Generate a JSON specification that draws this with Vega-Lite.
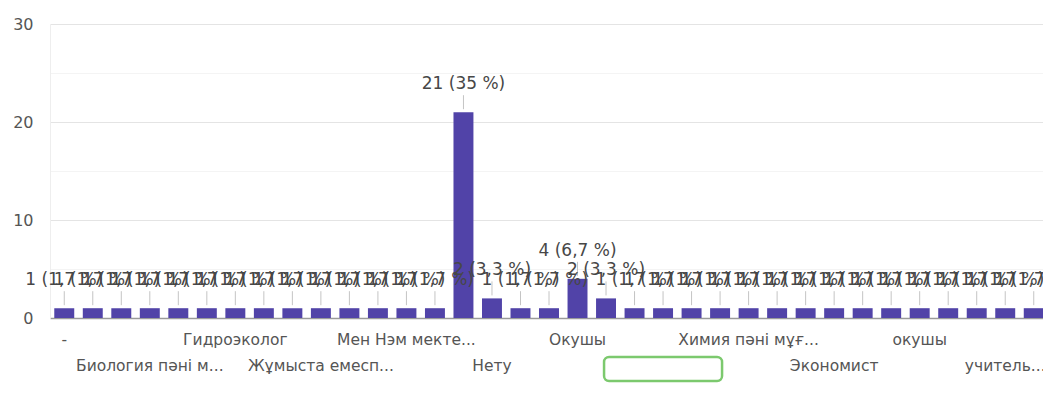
{
  "$schema": "https://vega.github.io/schema/vega-lite/v6.json",
  "width": 998,
  "height": 294,
  "autosize": "none",
  "padding": {"left": 50, "top": 24, "right": 0, "bottom": 76},
  "background": "white",
  "config": {"view": {"stroke": null}, "font": "DejaVu Sans"},
  "data": {"values": [
    {"i": 0, "name": "-", "count": 1, "label": "1 (1,7 %)"},
    {"i": 1, "name": "", "count": 1, "label": "1 (1,7 %)"},
    {"i": 2, "name": "", "count": 1, "label": "1 (1,7 %)"},
    {"i": 3, "name": "Биология пәні м...", "count": 1, "label": "1 (1,7 %)"},
    {"i": 4, "name": "", "count": 1, "label": "1 (1,7 %)"},
    {"i": 5, "name": "", "count": 1, "label": "1 (1,7 %)"},
    {"i": 6, "name": "Гидроэколог", "count": 1, "label": "1 (1,7 %)"},
    {"i": 7, "name": "", "count": 1, "label": "1 (1,7 %)"},
    {"i": 8, "name": "", "count": 1, "label": "1 (1,7 %)"},
    {"i": 9, "name": "Жұмыста емесп...", "count": 1, "label": "1 (1,7 %)"},
    {"i": 10, "name": "", "count": 1, "label": "1 (1,7 %)"},
    {"i": 11, "name": "", "count": 1, "label": "1 (1,7 %)"},
    {"i": 12, "name": "Мен Нэм мекте...", "count": 1, "label": "1 (1,7 %)"},
    {"i": 13, "name": "", "count": 1, "label": "1 (1,7 %)"},
    {"i": 14, "name": "", "count": 21, "label": "21 (35 %)"},
    {"i": 15, "name": "Нету", "count": 2, "label": "2 (3,3 %)"},
    {"i": 16, "name": "", "count": 1, "label": "1 (1,7 %)"},
    {"i": 17, "name": "", "count": 1, "label": "1 (1,7 %)"},
    {"i": 18, "name": "Окушы", "count": 4, "label": "4 (6,7 %)"},
    {"i": 19, "name": "", "count": 2, "label": "2 (3,3 %)"},
    {"i": 20, "name": "", "count": 1, "label": "1 (1,7 %)"},
    {"i": 21, "name": "", "count": 1, "label": "1 (1,7 %)"},
    {"i": 22, "name": "", "count": 1, "label": "1 (1,7 %)"},
    {"i": 23, "name": "", "count": 1, "label": "1 (1,7 %)"},
    {"i": 24, "name": "Химия пәні мұғ...", "count": 1, "label": "1 (1,7 %)"},
    {"i": 25, "name": "", "count": 1, "label": "1 (1,7 %)"},
    {"i": 26, "name": "", "count": 1, "label": "1 (1,7 %)"},
    {"i": 27, "name": "Экономист", "count": 1, "label": "1 (1,7 %)"},
    {"i": 28, "name": "", "count": 1, "label": "1 (1,7 %)"},
    {"i": 29, "name": "", "count": 1, "label": "1 (1,7 %)"},
    {"i": 30, "name": "окушы", "count": 1, "label": "1 (1,7 %)"},
    {"i": 31, "name": "", "count": 1, "label": "1 (1,7 %)"},
    {"i": 32, "name": "", "count": 1, "label": "1 (1,7 %)"},
    {"i": 33, "name": "учитель...", "count": 1, "label": "1 (1,7 %)"},
    {"i": 34, "name": "", "count": 1, "label": "1 (1,7 %)"}
  ]},
  "encoding": {
    "x": {"field": "i", "type": "ordinal",
      "scale": {"paddingInner": 0.3, "paddingOuter": 0.15},
      "axis": {"labels": false, "ticks": false, "title": null, "domainColor": "#9a9a9a", "domainWidth": 1.5}}
  },
  "layer": [
    {
      "mark": {"type": "bar", "color": "#5143a8"},
      "encoding": {
        "y": {"field": "count", "type": "quantitative",
          "scale": {"domain": [0, 30], "nice": false},
          "axis": {"values": [0, 5, 10, 15, 20, 25, 30],
            "labelExpr": "datum.value % 10 === 0 ? datum.label : ''",
            "title": null, "ticks": false, "labelPadding": 17, "labelFontSize": 16,
            "labelColor": "#555555", "domainColor": "#eeeeee",
            "gridColor": {"condition": {"test": "datum.value % 10 === 0", "value": "#e4e4e4"}, "value": "#f4f4f4"}}}
      }
    },
    {
      "mark": {"type": "rule", "color": "#c4c4c4", "yOffset": -3, "y2Offset": -17},
      "encoding": {
        "y": {"field": "count", "type": "quantitative"},
        "y2": {"field": "count"}
      }
    },
    {
      "mark": {"type": "text", "dy": -28, "fontSize": 17, "color": "#474747", "baseline": "middle"},
      "encoding": {
        "y": {"field": "count", "type": "quantitative"},
        "text": {"field": "label"}
      }
    },
    {
      "transform": [{"filter": "datum.i % 6 === 0"}],
      "mark": {"type": "text", "dy": 22, "fontSize": 15.5, "color": "#555555", "baseline": "middle"},
      "encoding": {
        "y": {"datum": 0, "type": "quantitative"},
        "text": {"field": "name"}
      }
    },
    {
      "transform": [{"filter": "datum.i % 6 === 3"}],
      "mark": {"type": "text", "dy": 48, "fontSize": 15.5, "color": "#555555", "baseline": "middle"},
      "encoding": {
        "y": {"datum": 0, "type": "quantitative"},
        "text": {"field": "name"}
      }
    },
    {
      "transform": [{"filter": "datum.i === 21"}],
      "mark": {"type": "bar", "width": 118, "fill": "white", "stroke": "#7cc96e", "strokeWidth": 2.5, "cornerRadius": 5, "yOffset": 39, "y2Offset": 63},
      "encoding": {
        "y": {"datum": 0, "type": "quantitative"},
        "y2": {"datum": 0}
      }
    }
  ]
}
